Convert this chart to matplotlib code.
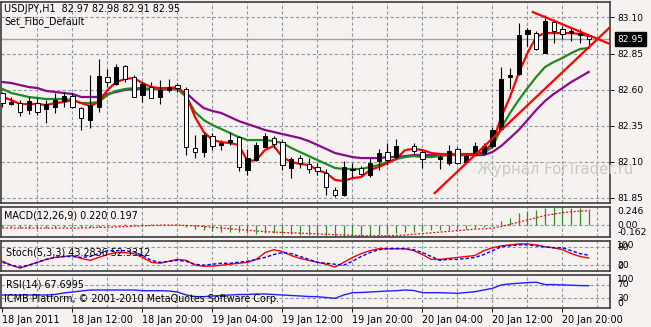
import matplotlib
matplotlib.use("Agg")
import matplotlib.pyplot as plt
from matplotlib.patches import Rectangle
import numpy as np

# USDJPY H1 bars, 18 Jan 04:00 .. 20 Jan 23:00
opens = [82.576, 82.499, 82.506, 82.458, 82.506, 82.465, 82.478, 82.520, 82.555, 82.471,
         82.388, 82.478, 82.687, 82.638, 82.763, 82.687, 82.562, 82.617, 82.548, 82.597,
         82.631, 82.603, 82.194, 82.166, 82.277, 82.215, 82.235, 82.270, 82.041, 82.110,
         82.201, 82.263, 82.235, 82.055, 82.124, 82.083, 82.062, 82.020, 81.902, 81.867,
         82.041, 82.055, 82.006, 82.103, 82.166, 82.131, 82.208, 82.208, 82.166, 82.208,
         82.117, 82.090, 82.187, 82.097, 82.145, 82.159, 82.208, 82.326, 82.687, 82.708,
         82.985, 82.992, 82.853, 83.069, 83.020, 82.992, 82.978, 82.970]
highs = [82.583, 82.548, 82.527, 82.548, 82.541, 82.527, 82.576, 82.583, 82.576, 82.478,
         82.701, 82.812, 82.742, 82.777, 82.770, 82.701, 82.652, 82.652, 82.666, 82.673,
         82.645, 82.617, 82.284, 82.298, 82.298, 82.249, 82.305, 82.277, 82.187, 82.235,
         82.298, 82.277, 82.249, 82.131, 82.145, 82.124, 82.090, 82.048, 81.923, 82.103,
         82.090, 82.069, 82.124, 82.187, 82.228, 82.256, 82.228, 82.228, 82.180, 82.228,
         82.145, 82.215, 82.201, 82.152, 82.235, 82.228, 82.340, 82.756, 82.749, 83.062,
         83.027, 83.006, 83.117, 83.090, 83.041, 83.034, 83.020, 82.980]
lows = [82.478, 82.492, 82.416, 82.430, 82.423, 82.367, 82.437, 82.478, 82.471, 82.319,
        82.333, 82.444, 82.618, 82.631, 82.652, 82.545, 82.513, 82.541, 82.499, 82.583,
        82.583, 82.145, 82.124, 82.131, 82.180, 82.180, 82.215, 82.034, 82.006, 82.103,
        82.201, 82.194, 82.041, 81.985, 82.055, 82.020, 82.006, 81.867, 81.853, 81.860,
        81.992, 82.006, 81.992, 82.041, 82.076, 82.124, 82.187, 82.145, 82.055, 82.187,
        82.048, 82.076, 82.083, 82.090, 82.138, 82.152, 82.194, 82.319, 82.603, 82.701,
        82.902, 82.874, 82.853, 82.923, 82.951, 82.937, 82.923, 82.910]
closes = [82.506, 82.513, 82.444, 82.520, 82.444, 82.499, 82.527, 82.555, 82.478, 82.402,
          82.492, 82.694, 82.652, 82.756, 82.673, 82.548, 82.638, 82.541, 82.597, 82.617,
          82.611, 82.201, 82.166, 82.284, 82.208, 82.228, 82.249, 82.062, 82.124, 82.215,
          82.277, 82.222, 82.076, 82.117, 82.090, 82.048, 82.034, 81.923, 81.867, 82.062,
          82.048, 82.013, 82.090, 82.159, 82.110, 82.208, 82.208, 82.173, 82.117, 82.208,
          82.131, 82.173, 82.090, 82.138, 82.208, 82.208, 82.319, 82.673, 82.701, 82.978,
          83.013, 82.881, 83.076, 83.006, 82.985, 83.006, 82.992, 82.950]

ma_fast = [82.548, 82.527, 82.499, 82.499, 82.499, 82.492, 82.506, 82.513, 82.527, 82.506,
           82.485, 82.513, 82.597, 82.652, 82.673, 82.680, 82.645, 82.617, 82.610, 82.610,
           82.617, 82.562, 82.409, 82.305, 82.249, 82.235, 82.228, 82.215, 82.103, 82.110,
           82.180, 82.208, 82.131, 82.097, 82.083, 82.076, 82.041, 82.020, 81.972, 81.965,
           81.985, 81.992, 82.041, 82.062, 82.090, 82.117, 82.180, 82.187, 82.180, 82.159,
           82.152, 82.152, 82.152, 82.152, 82.152, 82.166, 82.228, 82.409, 82.548, 82.715,
           82.853, 82.965, 82.992, 82.992, 82.992, 82.992, 82.985, 82.971]
ma_mid = [82.603, 82.576, 82.562, 82.548, 82.541, 82.534, 82.534, 82.534, 82.527, 82.506,
          82.506, 82.513, 82.562, 82.590, 82.603, 82.610, 82.610, 82.603, 82.603, 82.603,
          82.603, 82.548, 82.444, 82.388, 82.353, 82.326, 82.298, 82.270, 82.249, 82.249,
          82.249, 82.242, 82.228, 82.194, 82.166, 82.138, 82.110, 82.083, 82.055, 82.048,
          82.048, 82.048, 82.062, 82.076, 82.097, 82.117, 82.131, 82.138, 82.131, 82.131,
          82.138, 82.145, 82.145, 82.145, 82.152, 82.159, 82.201, 82.333, 82.437, 82.527,
          82.610, 82.687, 82.756, 82.791, 82.819, 82.853, 82.881, 82.888]
ma_slow = [82.652, 82.645, 82.631, 82.617, 82.610, 82.590, 82.583, 82.576, 82.569, 82.548,
           82.548, 82.548, 82.569, 82.583, 82.597, 82.603, 82.603, 82.603, 82.603, 82.603,
           82.603, 82.576, 82.520, 82.471, 82.451, 82.437, 82.409, 82.381, 82.360, 82.340,
           82.319, 82.305, 82.291, 82.277, 82.263, 82.242, 82.215, 82.187, 82.159, 82.145,
           82.131, 82.124, 82.124, 82.124, 82.131, 82.131, 82.138, 82.145, 82.145, 82.145,
           82.145, 82.145, 82.145, 82.145, 82.145, 82.145, 82.166, 82.208, 82.263, 82.319,
           82.388, 82.458, 82.520, 82.569, 82.610, 82.652, 82.687, 82.722]

# hand-drawn trend lines: (bar, price) end points
trend_top = [(60.6, 83.138), (69.7, 82.909)]
trend_up = [(49.4, 81.881), (69.7, 83.048)]

macd_main = [-0.03, -0.03, -0.04, -0.04, -0.04, -0.04, -0.04, -0.03, -0.03, -0.03,
             -0.03, -0.02, -0.01, 0.00, 0.01, 0.01, 0.01, 0.01, 0.00, 0.00,
             0.00, -0.02, -0.05, -0.07, -0.08, -0.09, -0.10, -0.10, -0.11, -0.12,
             -0.11, -0.11, -0.12, -0.12, -0.13, -0.13, -0.14, -0.15, -0.162, -0.16,
             -0.16, -0.15, -0.15, -0.14, -0.12, -0.11, -0.10, -0.09, -0.08, -0.07,
             -0.07, -0.06, -0.05, -0.05, -0.04, -0.03, -0.01, 0.06, 0.10, 0.16,
             0.19, 0.21, 0.23, 0.246, 0.24, 0.235, 0.228, 0.220]
macd_signal = [-0.04, -0.04, -0.04, -0.04, -0.04, -0.04, -0.04, -0.04, -0.04, -0.04,
               -0.035, -0.03, -0.03, -0.025, -0.02, -0.015, -0.01, -0.005, 0.0, 0.0,
               0.0, -0.005, -0.01, -0.02, -0.03, -0.04, -0.05, -0.06, -0.07, -0.08,
               -0.09, -0.095, -0.10, -0.105, -0.11, -0.115, -0.12, -0.125, -0.13, -0.135,
               -0.14, -0.145, -0.145, -0.145, -0.145, -0.14, -0.135, -0.125, -0.115, -0.105,
               -0.095, -0.085, -0.075, -0.065, -0.055, -0.05, -0.04, -0.02, 0.01, 0.04,
               0.07, 0.10, 0.13, 0.15, 0.17, 0.18, 0.19, 0.197]

stoch_main = [32.3, 19.4, 9.7, 19.4, 29.0, 38.7, 45.2, 48.4, 51.6, 41.9,
              35.5, 45.2, 54.8, 61.3, 61.3, 58.1, 45.2, 29.0, 25.8, 32.3,
              38.7, 35.5, 19.4, 16.1, 16.1, 19.4, 22.6, 25.8, 29.0, 38.7,
              61.3, 71.0, 64.5, 51.6, 41.9, 35.5, 29.0, 22.6, 12.9, 29.0,
              45.2, 58.1, 67.7, 74.2, 74.2, 74.2, 74.2, 67.7, 54.8, 38.7,
              38.7, 41.9, 45.2, 48.4, 51.6, 67.7, 77.4, 83.9, 87.1, 90.3,
              90.3, 87.1, 80.6, 77.4, 71.0, 58.1, 48.4, 43.28]
stoch_signal = [29.0, 19.4, 12.9, 19.4, 29.0, 38.7, 45.2, 48.4, 48.4, 45.2,
                48.4, 58.1, 67.7, 67.7, 67.7, 64.5, 51.6, 35.5, 29.0, 32.3,
                35.5, 32.3, 22.6, 19.4, 22.6, 25.8, 25.8, 29.0, 32.3, 38.7,
                45.2, 54.8, 61.3, 58.1, 48.4, 38.7, 29.0, 25.8, 22.6, 19.4,
                32.3, 48.4, 61.3, 71.0, 74.2, 74.2, 74.2, 71.0, 61.3, 48.4,
                35.5, 38.7, 38.7, 41.9, 45.2, 54.8, 67.7, 80.6, 83.9, 87.1,
                87.1, 83.9, 80.6, 77.4, 77.4, 67.7, 58.1, 52.33]

rsi = [39.4, 39.4, 39.4, 39.4, 39.4, 39.4, 40.9, 45.5, 48.5, 51.5,
       54.5, 54.5, 54.5, 54.5, 54.5, 54.5, 52.4, 52.4, 52.4, 51.5,
       48.5, 39.4, 34.8, 34.2, 36.4, 37.9, 39.4, 40.9, 40.9, 42.4,
       42.4, 40.9, 39.4, 37.9, 36.4, 34.8, 34.2, 31.8, 29.4, 39.4,
       46.4, 47.0, 48.5, 50.0, 51.5, 52.4, 54.5, 53.0, 46.4, 46.4,
       46.4, 45.5, 44.5, 47.0, 49.4, 54.5, 59.7, 70.0, 73.0, 75.0,
       77.0, 78.0, 71.0, 71.0, 70.0, 69.0, 68.0, 67.7]

price_ticks = [81.85, 82.10, 82.35, 82.60, 82.85, 83.10]
time_labels = ["18 Jan 2011", "18 Jan 12:00", "18 Jan 20:00", "19 Jan 04:00",
               "19 Jan 12:00", "19 Jan 20:00", "20 Jan 04:00", "20 Jan 12:00",
               "20 Jan 20:00"]

BG = "#f5f2ef"
GRID = "#8e9aa8"
FS = 6.6      # axis numbers
FT = 6.9      # captions inside the windows
W, H = 651, 327
x = np.arange(len(closes))
XL = (-0.17, 69.43)

fig = plt.figure(figsize=(W / 100, H / 100), dpi=100, facecolor=BG)


def panel(top, bottom):
    ax = fig.add_axes([1 / W, 1 - bottom / H, 609 / W, (bottom - top) / H])
    ax.set_facecolor(BG)
    ax.set_xlim(*XL)
    for s in ax.spines.values():
        s.set_color("#3c3c3c")
        s.set_linewidth(1.2)
    ax.yaxis.tick_right()
    ax.tick_params(axis="y", length=3, width=0.7, pad=2, labelsize=FS, colors="black")
    ax.tick_params(axis="x", length=0, labelbottom=False)
    for b in range(4, 70, 4):
        ax.axvline(b, color=GRID, lw=0.8, ls=(0, (3, 2)), zorder=0)
    return ax


def side_labels(ax, levels):
    for v, lab, va in levels:
        ax.text(1.012, v, lab, transform=ax.get_yaxis_transform(), fontsize=FS,
                va=va, ha="left")


# ---- main price window
ax = panel(2, 203)
ax.set_ylim(81.812, 83.2076)
ax.set_yticks(price_ticks)
ax.set_yticklabels([f"{p:.2f}" for p in price_ticks])
for p in price_ticks:
    ax.axhline(p, color=GRID, lw=0.8, ls=(0, (3, 2)), zorder=0)
ax.axhline(closes[-1], color="#9aa3ad", lw=1.0, zorder=1)

ax.plot(x, ma_slow, color="#8b0a8b", lw=1.6, zorder=3)
ax.plot(x, ma_mid, color="#1f8a1f", lw=1.6, zorder=3)
ax.plot(x, ma_fast, color="#ff0000", lw=1.6, zorder=3)

for i in range(len(closes)):
    o, h, l, c = opens[i], highs[i], lows[i], closes[i]
    doji = abs(c - o) < 1e-6
    ax.vlines(i, l, h, color="white" if doji else "black", lw=0.8, zorder=4)
    if doji:
        ax.hlines(o, i - 0.25, i + 0.25, color="white", lw=0.8, zorder=4)
        continue
    lo, hi = min(o, c), max(o, c)
    ax.add_patch(Rectangle((i - 0.25, lo), 0.5, max(hi - lo, 0.004),
                           facecolor="black" if c > o else "white",
                           edgecolor="black", lw=0.7, zorder=5))

for line in (trend_top, trend_up):
    (x0, y0), (x1, y1) = line
    ax.plot([x0, x1], [y0, y1], color="#ff0000", lw=1.6, zorder=6)

ax.text(0.005, 0.963, "USDJPY,H1  82.97 82.98 82.91 82.95", transform=ax.transAxes,
        fontsize=FT, va="center", ha="left")
ax.text(0.005, 0.903, "Set_Fibo_Default", transform=ax.transAxes,
        fontsize=FT, va="center", ha="left")
ax.text(1.012, closes[-1], f"{closes[-1]:.2f}", transform=ax.get_yaxis_transform(),
        fontsize=FS, color="white", va="center", ha="left",
        bbox=dict(boxstyle="square,pad=0.25", fc="black", ec="black"))

# ---- MACD
am = panel(207, 237)
am.set_ylim(-0.162, 0.246)
am.set_yticks([])
am.axhline(0, color=GRID, lw=0.8, ls=(0, (3, 2)), zorder=0)
am.vlines(x, 0, macd_main, color="#2f8f2f", lw=0.9, zorder=2)
am.plot(x, macd_signal, color="#ff0000", lw=0.9, ls=(0, (1.5, 1.5)), zorder=3)
am.text(0.005, 0.72, "MACD(12,26,9) 0.220 0.197", transform=am.transAxes, fontsize=FT,
        va="center")
side_labels(am, [(0.246, "0.246", "top"), (0.0, "0.00", "center"),
                 (-0.162, "-0.162", "bottom")])

# ---- Stochastic
ast = panel(241, 271)
ast.set_ylim(0, 100)
ast.set_yticks([])
for lv in (20, 80):
    ast.axhline(lv, color=GRID, lw=0.8, ls=(0, (3, 2)), zorder=0)
ast.plot(x, stoch_main, color="#ff0000", lw=1.0, zorder=3)
ast.plot(x, stoch_signal, color="#0000ff", lw=1.0, ls=(0, (2.5, 1.5)), zorder=3)
ast.text(0.008, 0.62, "Stoch(5,3,3) 43.2836 52.3312", transform=ast.transAxes, fontsize=FT,
         va="center")
side_labels(ast, [(100, "100", "top"), (80, "80", "center"), (20, "20", "center"),
                  (0, "0", "bottom")])

# ---- RSI
ar = panel(275, 308)
ar.set_ylim(0, 100)
ar.set_yticks([])
for lv in (30, 70):
    ar.axhline(lv, color=GRID, lw=0.8, ls=(0, (3, 2)), zorder=0)
ar.plot(x, rsi, color="#2020ff", lw=1.0, zorder=3)
ar.text(0.008, 0.7, "RSI(14) 67.6995", transform=ar.transAxes, fontsize=FT, va="center")
ar.text(0.005, 0.27, "ICMB Platform, © 2001-2010 MetaQuotes Software Corp.",
        transform=ar.transAxes, fontsize=FT, va="center")
side_labels(ar, [(100, "100", "top"), (70, "70", "center"), (30, "30", "center"),
                 (0, "0", "bottom")])

ar.set_xticks(range(0, 68, 8))
ar.set_xticklabels(time_labels, ha="left")
ar.tick_params(axis="x", length=3, width=0.7, pad=2, labelsize=FT, labelbottom=True,
               direction="out")

fig.text(477 / W, 1 - 169 / H, "Журнал ForTrader.ru", fontsize=10.6, color="#cdc8c3",
         va="center", ha="left")

fig.savefig("out.png", dpi=100, facecolor=BG)
